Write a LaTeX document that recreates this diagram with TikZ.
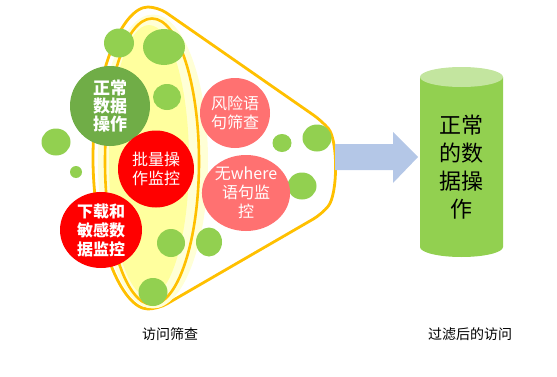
\documentclass[tikz,border=0pt]{standalone}
\usepackage{fontspec}
\newfontfamily\cjk{Noto Sans CJK SC}
\usetikzlibrary{shapes.geometric}
\definecolor{lgreen}{HTML}{92D050}
\definecolor{dgreen}{HTML}{70AD47}
\definecolor{myred}{HTML}{FF0000}
\definecolor{mypink}{HTML}{FF7171}
\definecolor{funnel}{HTML}{FFC000}
\definecolor{paleyel}{HTML}{FFFF9E}
\definecolor{glowyel}{HTML}{FFFFD6}
\definecolor{arrowblue}{HTML}{B4C7E7}
\tikzset{
  ball/.style={ellipse, fill=lgreen, inner sep=0pt},
  tball/.style={ellipse, inner sep=0pt, text=white, align=center, font=\cjk\fontsize{16}{19}\selectfont},
  lbl/.style={font=\cjk\fontsize{14}{16}\selectfont, text=black},
}
\begin{document}
\begin{tikzpicture}[x=1pt,y=1pt]
\useasboundingbox (0,0) rectangle (557,376);
% funnel outline
\draw[funnel, line width=2.8pt, fill=white, rounded corners=10pt] (158,369) arc[start angle=90, end angle=270, x radius=65, y radius=151]
  -- (322,162) .. controls (338,182) and (338,236) .. (322,255) -- cycle;
% inner ellipse
\fill[glowyel] (153,214.5) ellipse[x radius=55, y radius=147];
\fill[paleyel] (149,215) ellipse[x radius=40, y radius=136];
\draw[funnel, line width=2.6pt] (152,214.5) ellipse[x radius=47, y radius=143];
% small green balls
\node[ball, minimum width=30, minimum height=29] (g1) at (119,333) {};
\node[ball, minimum width=42, minimum height=36] (g2) at (164,329) {};
\node[ball, minimum width=28, minimum height=26] (g3) at (167,279) {};
\node[ball, minimum width=29, minimum height=27] (g4) at (56,234) {};
\node[ball, minimum width=12, minimum height=12] (g5) at (76,204) {};
\node[ball, minimum width=28, minimum height=28] (g6) at (171,133) {};
\node[ball, minimum width=26, minimum height=29] (g7) at (209,134) {};
\node[ball, minimum width=29, minimum height=28] (g8) at (153,84) {};
\node[ball, minimum width=19, minimum height=18] (g9) at (282,233) {};
\node[ball, minimum width=29, minimum height=27] (g10) at (317,238) {};
\node[ball, minimum width=29, minimum height=27] (g11) at (302,190) {};
% text balls
\node[tball, fill=dgreen, minimum width=80, minimum height=80, font=\cjk\bfseries\fontsize{17}{18}\selectfont] (c1) at (110,270) {正常\\数据\\操作};
\node[tball, fill=myred, minimum width=76, minimum height=77] (c2) at (156,207) {批量操\\作监控};
\node[tball, fill=myred, minimum width=82, minimum height=76, font=\cjk\bfseries\fontsize{16}{19}\selectfont] (c3) at (101,146) {下载和\\敏感数\\据监控};
\node[tball, fill=mypink, minimum width=70, minimum height=70] (c4) at (235,263) {风险语\\句筛查};
\node[tball, fill=mypink, minimum width=86, minimum height=76] (c5) at (246,183) {无where\\语句监\\控};
% arrow
\fill[arrowblue] (335,206) -- (393,206) -- (393,193) -- (418,219) -- (393,244) -- (393,232) -- (335,232) -- cycle;
% cylinder
\fill[lgreen] (420,299) -- (420,129) arc[start angle=180, end angle=360, x radius=41.5, y radius=10] -- (503,299) -- cycle;
\fill[lgreen!55!white] (461.5,299) ellipse[x radius=41.5, y radius=10];
\node[font=\cjk\fontsize{22}{28}\selectfont, align=center, text=black] (cyl) at (461.5,209) {正常\\的数\\据操\\作};
% labels
\node[lbl] (l1) at (170,42) {访问筛查};
\node[lbl] (l2) at (470,42) {过滤后的访问};
\end{tikzpicture}
\end{document}
